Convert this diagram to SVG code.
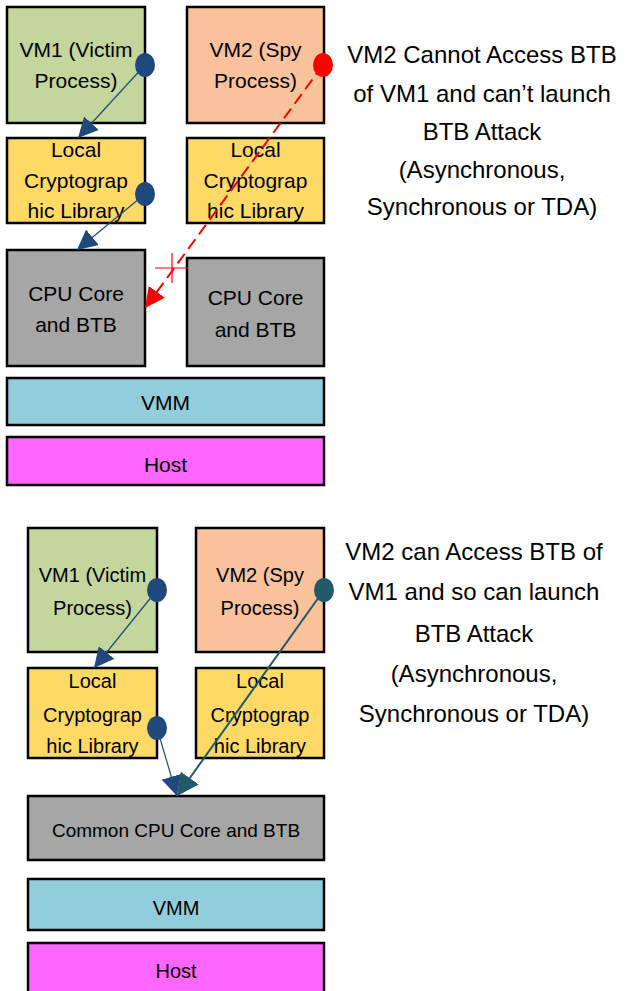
<svg xmlns="http://www.w3.org/2000/svg" width="625" height="991" viewBox="0 0 625 991">
<style>
.box{stroke:#000;stroke-width:2.5}
.t{font-family:"Liberation Sans",Arial,sans-serif;fill:#000;text-anchor:middle}
.s21{font-size:21px}
.s20{font-size:20px}
.big{font-size:24px}
.vm1{fill:#C3D69B}
.vm2{fill:#F9C29B}
.lib{fill:#FFD966}
.cpu{fill:#A6A6A6}
.vmm{fill:#92CDDC}
.host{fill:#FF66FF}
</style>
<defs>
<marker id="ab" viewBox="0 0 10 10" refX="10" refY="5" markerWidth="20" markerHeight="20" markerUnits="userSpaceOnUse" orient="auto"><path d="M0,0 L10,5 L0,10 z" fill="#1F497D"/></marker>
<marker id="ar" viewBox="0 0 10 10" refX="10" refY="5" markerWidth="20" markerHeight="20" markerUnits="userSpaceOnUse" orient="auto"><path d="M0,0 L10,5 L0,10 z" fill="#FF0000" stroke="none"/></marker>
<marker id="at" viewBox="0 0 10 10" refX="10" refY="5" markerWidth="22" markerHeight="22" markerUnits="userSpaceOnUse" orient="auto"><path d="M0,0 L10,5 L0,10 z" fill="#215968"/></marker>
</defs>

<!-- Top section -->
<g id="vm1-top"><rect class="box vm1" x="7" y="7" width="138" height="116"/><text class="t s21" x="76" y="57">VM1 (Victim</text><text class="t s21" x="76" y="88">Process)</text></g>
<g id="vm2-top"><rect class="box vm2" x="187" y="7" width="137" height="116"/><text class="t s21" x="255.5" y="57">VM2 (Spy</text><text class="t s21" x="255.5" y="88">Process)</text></g>
<g id="lib1-top"><rect class="box lib" x="7" y="138" width="138" height="85"/><text class="t s21" x="76" y="157">Local</text><text class="t s21" x="76" y="188">Cryptograp</text><text class="t s21" x="76" y="218">hic Library</text></g>
<g id="lib2-top"><rect class="box lib" x="187" y="138" width="137" height="85"/><text class="t s21" x="255.5" y="157">Local</text><text class="t s21" x="255.5" y="188">Cryptograp</text><text class="t s21" x="255.5" y="218">hic Library</text></g>
<g id="cpu1-top"><rect class="box cpu" x="7" y="250" width="138" height="116"/><text class="t s21" x="76" y="301">CPU Core</text><text class="t s21" x="76" y="332">and BTB</text></g>
<g id="cpu2-top"><rect class="box cpu" x="187" y="258" width="137" height="108"/><text class="t s21" x="255.5" y="305">CPU Core</text><text class="t s21" x="255.5" y="337">and BTB</text></g>
<g id="vmm-top"><rect class="box vmm" x="7" y="378" width="317" height="47"/><text class="t s21" x="165.5" y="410">VMM</text></g>
<g id="host-top"><rect class="box host" x="7" y="437" width="317" height="48"/><text class="t s21" x="165.5" y="472">Host</text></g>
<g id="label-top"><text class="t big" x="482" y="63">VM2 Cannot Access BTB</text><text class="t big" x="482" y="102">of VM1 and can’t launch</text><text class="t big" x="482" y="140">BTB Attack</text><text class="t big" x="482" y="178">(Asynchronous,</text><text class="t big" x="482" y="215">Synchronous or TDA)</text></g>

<!-- Bottom section -->
<g id="vm1-bot"><rect class="box vm1" x="28" y="528" width="129" height="124"/><text class="t s20" x="92.5" y="582">VM1 (Victim</text><text class="t s20" x="92.5" y="615">Process)</text></g>
<g id="vm2-bot"><rect class="box vm2" x="196" y="528" width="128" height="124"/><text class="t s20" x="260" y="582">VM2 (Spy</text><text class="t s20" x="260" y="615">Process)</text></g>
<g id="lib1-bot"><rect class="box lib" x="28" y="668" width="129" height="90"/><text class="t s20" x="92.5" y="688">Local</text><text class="t s20" x="92.5" y="722">Cryptograp</text><text class="t s20" x="92.5" y="753">hic Library</text></g>
<g id="lib2-bot"><rect class="box lib" x="196" y="668" width="128" height="90"/><text class="t s20" x="260" y="688">Local</text><text class="t s20" x="260" y="722">Cryptograp</text><text class="t s20" x="260" y="753">hic Library</text></g>
<g id="cpu-bot"><rect class="box cpu" x="28" y="796" width="296" height="64"/><text class="t" style="font-size:19px" x="176" y="837">Common CPU Core and BTB</text></g>
<g id="vmm-bot"><rect class="box vmm" x="28" y="879" width="296" height="51"/><text class="t s20" x="176" y="915">VMM</text></g>
<g id="host-bot"><rect class="box host" x="28" y="943" width="296" height="60"/><text class="t s20" x="176" y="978">Host</text></g>
<g id="label-bot"><text class="t big" x="474" y="560">VM2 can Access BTB of</text><text class="t big" x="474" y="600">VM1 and so can launch</text><text class="t big" x="474" y="642">BTB Attack</text><text class="t big" x="474" y="682">(Asynchronous,</text><text class="t big" x="474" y="722">Synchronous or TDA)</text></g>

<!-- Connectors -->
<g id="connectors">
<line x1="145" y1="65" x2="78" y2="138" stroke="#1F497D" stroke-width="1.2" marker-end="url(#ab)"/>
<ellipse cx="145" cy="65" rx="10" ry="12" fill="#1F497D"/>
<line x1="145" y1="194" x2="77" y2="250" stroke="#1F497D" stroke-width="1.2" marker-end="url(#ab)"/>
<ellipse cx="145" cy="194" rx="10" ry="12" fill="#1F497D"/>
<line x1="323" y1="65" x2="145" y2="308" stroke="#FF0000" stroke-width="2" stroke-dasharray="12,6" marker-end="url(#ar)"/>
<ellipse cx="323" cy="65" rx="10" ry="12" fill="#FF0000"/>
<line x1="155" y1="268" x2="188" y2="268" stroke="#FF0000" stroke-width="1.2"/>
<line x1="172" y1="253" x2="172" y2="283" stroke="#FF0000" stroke-width="1.2"/>

<line x1="157" y1="590" x2="94" y2="668" stroke="#1F497D" stroke-width="1.2" marker-end="url(#ab)"/>
<ellipse cx="157" cy="590" rx="10" ry="12" fill="#1F497D"/>
<line x1="157" y1="728" x2="177" y2="796" stroke="#1F497D" stroke-width="1.2" marker-end="url(#ab)"/>
<ellipse cx="157" cy="728" rx="10" ry="12" fill="#1F497D"/>
<line x1="324" y1="590" x2="177" y2="796" stroke="#215968" stroke-width="2" marker-end="url(#at)"/>
<ellipse cx="324" cy="590" rx="10" ry="12" fill="#215968"/>
</g>
</svg>
